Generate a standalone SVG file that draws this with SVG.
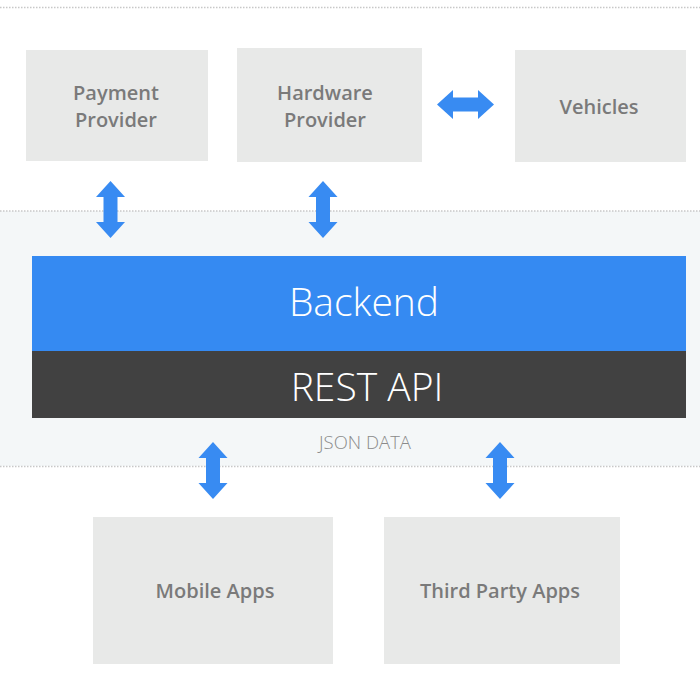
<svg xmlns="http://www.w3.org/2000/svg" xmlns:xlink="http://www.w3.org/1999/xlink" width="700" height="700" viewBox="0 0 700 700">
<style>
.box{fill:#e8e9e8}
.lbl{font-family:"Open Sans","Noto Sans","Liberation Sans",sans-serif;font-weight:600;font-size:20px;fill:#7a7a7a;text-anchor:middle}
.big{font-family:"Open Sans","Noto Sans","Liberation Sans",sans-serif;font-weight:300;font-size:39px;fill:#ffffff;text-anchor:middle}
.dot{stroke:#c8c8c8;stroke-width:1.5;stroke-dasharray:1.5 1.5;fill:none}
.arr{fill:#388bf2}
</style>
<defs>
<path id="varrow" d="M0,-28.5 L14.5,-12.5 L7,-12.5 L7,12.5 L14.5,12.5 L0,28.5 L-14.5,12.5 L-7,12.5 L-7,-12.5 L-14.5,-12.5 Z"/>
</defs>
<rect width="700" height="700" fill="#ffffff"/>
<line class="dot" x1="0" y1="7.5" x2="700" y2="7.5"/>
<g id="band">
<rect x="0" y="211" width="700" height="255" fill="#f4f7f8"/>
<line class="dot" x1="0" y1="211" x2="700" y2="211"/>
<line class="dot" x1="0" y1="466.5" x2="700" y2="466.5"/>
<text x="365" y="449" font-family="'Open Sans','Noto Sans','Liberation Sans',sans-serif" font-weight="300" font-size="18.5" fill="#8a8a8a" text-anchor="middle">JSON DATA</text>
</g>
<g id="payment">
<rect class="box" x="26" y="50" width="182" height="111"/>
<text class="lbl" x="116" y="100">Payment</text>
<text class="lbl" x="116" y="127">Provider</text>
</g>
<g id="hardware">
<rect class="box" x="237" y="48" width="185" height="114"/>
<text class="lbl" x="325" y="100">Hardware</text>
<text class="lbl" x="325" y="127">Provider</text>
</g>
<g id="vehicles">
<rect class="box" x="515" y="50" width="171" height="112"/>
<text class="lbl" x="599" y="114">Vehicles</text>
</g>
<g id="backend">
<rect x="32" y="256" width="654" height="95" fill="#358af2"/>
<text class="big" x="364" y="316">Backend</text>
</g>
<g id="restapi">
<rect x="32" y="351" width="654" height="67" fill="#414141"/>
<text class="big" x="367" y="401">REST API</text>
</g>
<g id="mobile">
<rect class="box" x="93" y="517" width="240" height="147"/>
<text class="lbl" x="215" y="598">Mobile Apps</text>
</g>
<g id="thirdparty">
<rect class="box" x="384" y="517" width="236" height="147"/>
<text class="lbl" x="500" y="598">Third Party Apps</text>
</g>
<g id="connectors" class="arr">
<use xlink:href="#varrow" transform="translate(110.5,209.5)"/>
<use xlink:href="#varrow" transform="translate(323,209.5)"/>
<use xlink:href="#varrow" transform="translate(465.5,104.5) rotate(90)"/>
<use xlink:href="#varrow" transform="translate(213,470.5)"/>
<use xlink:href="#varrow" transform="translate(500,470.5)"/>
</g>
</svg>
